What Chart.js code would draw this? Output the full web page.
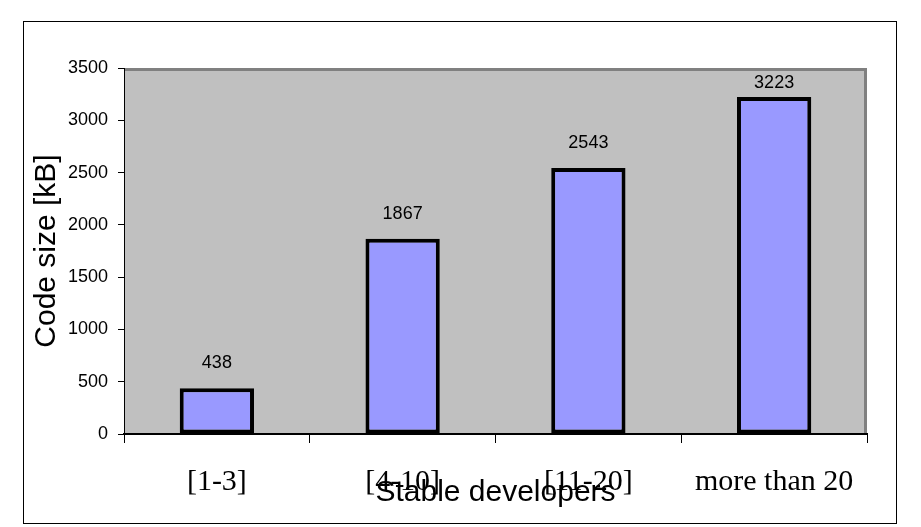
<!DOCTYPE html>
<html>
<head>
<meta charset="utf-8">
<title>Code size vs stable developers</title>
<script src="https://cdn.jsdelivr.net/npm/chart.js@4/dist/chart.umd.min.js"></script>
<style>
  html, body { margin: 0; padding: 0; background: #ffffff; }
  #grafico { display: block; }
</style>
</head>
<body>
<canvas id="grafico" width="921" height="527"></canvas>
<script>
// Datos del gráfico
const categorias = ["[1-3]", "[4-10]", "[11-20]", "more than 20"];
const tamanoCodigo = [438, 1867, 2543, 3223];
const ejeYMin = 0;
const ejeYMax = 3500;
const ejeYPaso = 500;

const tituloX = "Stable developers";
const tituloY = "Code size [kB]";

// =========================
// Plugins propios
// =========================

// Fondo gris del área de trazado + marco exterior
const fondoPlugin = {
  id: "fondo",
  beforeDraw(chart) {
    const { ctx, chartArea: a } = chart;
    ctx.save();
    ctx.fillStyle = "#ffffff";
    ctx.fillRect(0, 0, chart.width, chart.height);

    // marco exterior
    ctx.strokeStyle = "#000000";
    ctx.lineWidth = 1;
    ctx.strokeRect(23.5, 21.5, 873, 502);

    // área de trazado
    ctx.fillStyle = "#c0c0c0";
    ctx.fillRect(a.left, a.top, a.right - a.left, a.bottom - a.top);

    // borde gris arriba y a la derecha
    ctx.strokeStyle = "#808080";
    ctx.lineWidth = 3;
    ctx.beginPath();
    ctx.moveTo(a.left, a.top + 1.5);
    ctx.lineTo(a.right - 1.5, a.top + 1.5);
    ctx.lineTo(a.right - 1.5, a.bottom);
    ctx.stroke();
    ctx.restore();
  }
};

// Etiquetas de valor encima de cada barra
const etiquetasPlugin = {
  id: "etiquetas",
  afterDatasetsDraw(chart) {
    const { ctx, chartArea: a } = chart;
    const meta = chart.getDatasetMeta(0);
    ctx.save();
    ctx.font = "18px Arial, 'Liberation Sans', sans-serif";
    ctx.fillStyle = "#000000";
    ctx.textAlign = "center";
    ctx.textBaseline = "middle";
    meta.data.forEach((bar, i) => {
      const y = Math.max(bar.y - 25, a.top + 15);
      ctx.fillText(String(chart.data.datasets[0].data[i]), bar.x, y);
    });
    ctx.restore();
  }
};

// =========================
// Gráfico con Chart.js
// =========================

const ctx = document.getElementById("grafico");

new Chart(ctx, {
  type: "bar",
  data: {
    labels: categorias,
    datasets: [
      {
        label: "Code size",
        data: tamanoCodigo,
        backgroundColor: "#9999ff",
        borderColor: "#000000",
        borderWidth: 4,
        borderSkipped: false,
        categoryPercentage: 1.0,
        barPercentage: 0.4
      }
    ]
  },
  options: {
    responsive: false,
    animation: false,
    layout: {
      padding: { left: 0, top: 68, right: 54, bottom: 0 }
    },
    plugins: {
      legend: { display: false },
      tooltip: { enabled: false }
    },
    scales: {
      x: {
        afterFit(scale) { scale.height = 93; },
        grid: {
          offset: true,
          drawOnChartArea: false,
          drawTicks: true,
          tickLength: 9,
          color: "#000000",
          lineWidth: 1
        },
        border: { display: true, color: "#000000", width: 2 },
        ticks: {
          color: "#000000",
          font: { family: "'Liberation Serif', 'Times New Roman', serif", size: 30 },
          padding: 21,
          maxRotation: 0,
          autoSkip: false
        },
        title: {
          display: true,
          text: tituloX,
          color: "#000000",
          font: { family: "Arial, 'Liberation Sans', sans-serif", size: 30, lineHeight: 1 },
          padding: { top: 0, bottom: 19 }
        }
      },
      y: {
        min: ejeYMin,
        max: ejeYMax,
        afterFit(scale) { scale.width = 124; },
        grid: {
          drawOnChartArea: false,
          drawTicks: true,
          tickLength: 6,
          color: "#000000",
          lineWidth: 1
        },
        border: { display: true, color: "#000000", width: 1 },
        ticks: {
          stepSize: ejeYPaso,
          color: "#000000",
          font: { family: "Arial, 'Liberation Sans', sans-serif", size: 18 },
          padding: 10,
          callback: (v) => String(v)
        },
        title: {
          display: true,
          text: tituloY,
          color: "#000000",
          font: { family: "Arial, 'Liberation Sans', sans-serif", size: 30, lineHeight: 1 },
          padding: { top: 32, bottom: 0 }
        }
      }
    }
  },
  plugins: [fondoPlugin, etiquetasPlugin]
});
</script>
</body>
</html>
